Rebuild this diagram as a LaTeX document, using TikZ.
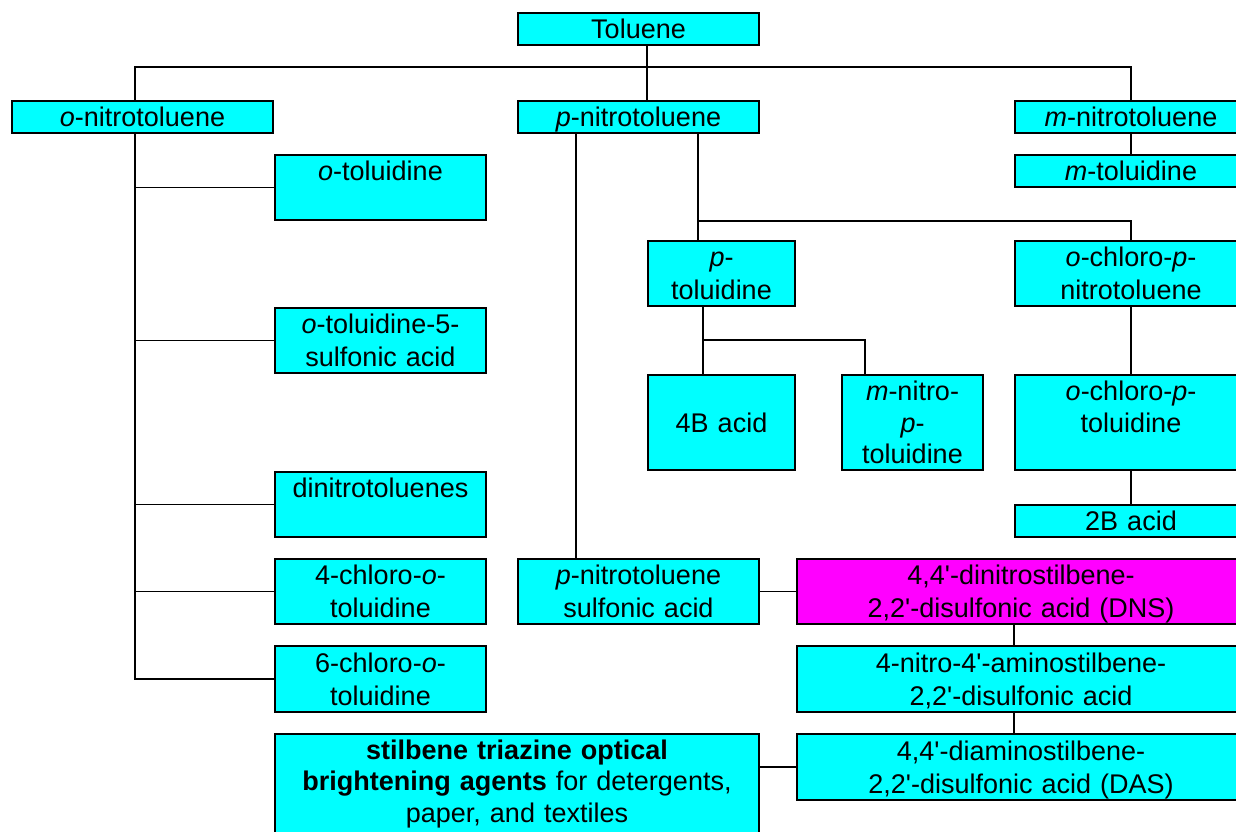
\documentclass[tikz,border=0pt]{standalone}
\usepackage{fontspec}
\setmainfont{Liberation Sans}[Ligatures=TeXOff]
\usetikzlibrary{positioning}
\definecolor{cyanfill}{HTML}{00FFFF}
\definecolor{dnspink}{HTML}{FF00FF}
\newcommand\ystrut{\rule[-6.5pt]{0pt}{32pt}}
\newcommand\botstrut{\rule[-18pt]{0pt}{18pt}}

\begin{document}
\begin{tikzpicture}[x=1pt,y=-1pt,
  box/.style={draw=black,line width=1.8pt,fill=cyanfill,inner sep=0pt,outer sep=0.9pt,
    text width=#1,minimum height=32.2pt,align=center,font=\fontsize{27}{31.5}\selectfont,
    execute at begin node=\ystrut,execute at end node=\ystrut},
  box/.default=241.2pt,
  twoline/.style={minimum height=65.2pt},
  threeline/.style={minimum height=95.2pt},
  hot/.style={box=#1,fill=dnspink},
  ln/.style={draw=black,line width=1.6pt}]
\useasboundingbox (0,0) rectangle (1236,831);
\clip (0,0) rectangle (1236,831);
% toluene and the three nitrotoluenes
\node[box,anchor=north west] (tol) at (517,12) {Toluene};
\node[box,below=54pt of tol] (pnitro) {\textit{p}-nitrotoluene};
\node[box=261.2pt,left=243pt of pnitro] (onitro) {\textit{o}-nitrotoluene};
\node[box=232.2pt,right=254pt of pnitro] (mnitro) {\textit{m}-nitrotoluene};
\node[box=232.2pt,below=20pt of mnitro] (mtol) {\textit{m}-toluidine};
% ortho branch
\node[box=211.2pt,twoline,below right=20pt and 0pt of onitro.south east] (otol) {\textit{o}-toluidine\\\mbox{}};
\node[box=211.2pt,twoline,below=86pt of otol] (ots) {\textit{o}-toluidine-5-\\sulfonic acid};
\node[box=211.2pt,twoline,below=97pt of ots] (dnt) {dinitrotoluenes\\\mbox{}};
\node[box=211.2pt,twoline,below=20pt of dnt] (fourco) {4-chloro-\textit{o}-\\toluidine};
\node[box=211.2pt,twoline,minimum height=66.2pt,below=20pt of fourco] (sixco) {6-chloro-\textit{o}-\\toluidine};
\node[box=484.2pt,below right=20pt and 0pt of sixco.south west,execute at end node=\botstrut] (stil)
  {\textbf{stilbene triazine optical}\\\textbf{brightening agents} for detergents,\\paper, and textiles};
% para branch
\node[box=147.2pt,twoline,below right=106pt and 130pt of pnitro.south west] (ptol) {\textit{p}-\\toluidine};
\node[box=147.2pt,threeline,below=67pt of ptol] (fourb) {4B acid};
\node[box=141.2pt,threeline,right=45pt of fourb] (mnpt) {\textit{m}-nitro-\\\textit{p}-\\toluidine};
\node[box=232.2pt,twoline,right=218pt of ptol] (ocpn) {\textit{o}-chloro-\textit{p}-\\nitrotoluene};
\node[box=232.2pt,threeline,below=67pt of ocpn] (ocpt) {\textit{o}-chloro-\textit{p}-\\toluidine\\\mbox{}};
\node[box=232.2pt,below=33pt of ocpt] (twob) {2B acid};
\node[box,twoline,below=424pt of pnitro] (pnsa) {\textit{p}-nitrotoluene\\sulfonic acid};
\node[hot=448.2pt,twoline,right=36pt of pnsa] (dns) {4,4'-dinitrostilbene-\\2,2'-disulfonic acid (DNS)};
\node[box=448.2pt,twoline,minimum height=66.2pt,below=20pt of dns] (namino) {4-nitro-4'-aminostilbene-\\2,2'-disulfonic acid};
\node[box=448.2pt,twoline,minimum height=66.2pt,below=20pt of namino] (das) {4,4'-diaminostilbene-\\2,2'-disulfonic acid (DAS)};
% connectors
\coordinate (tbar) at (647,67);
\draw[ln] (tol.south -| tbar) -- (pnitro.north -| tbar);
\draw[ln] ([xshift=-7.5pt]onitro.north) |- (tbar) -| (mnitro.north);
\draw[ln] (mnitro) -- (mtol);
\coordinate (otrunk) at ([xshift=-7.5pt]onitro.south);
\draw[ln] (otrunk) |- (sixco.west);
\foreach \n in {otol,ots,dnt,fourco}
  \draw[ln] (otrunk |- \n.west) -- (\n.west);
\draw[ln] ([xshift=59pt]pnitro.south west) -- ([xshift=59pt]pnsa.north west);
\coordinate (pbar) at (698,221);
\draw[ln] (pnitro.south -| pbar) -- (ptol.north -| pbar);
\draw[ln] (pbar) -| (ocpn.north);
\coordinate (tbar2) at (703,340);
\draw[ln] (ptol.south -| tbar2) -- (fourb.north -| tbar2);
\draw[ln] (tbar2) -| ([xshift=24pt]mnpt.north west);
\draw[ln] (ocpn) -- (ocpt);
\draw[ln] (ocpt) -- (twob);
\draw[ln] (pnsa) -- (dns);
\draw[ln] (dns.south -| ocpn.west) -- (namino.north -| ocpn.west);
\draw[ln] (namino.south -| ocpn.west) -- (das.north -| ocpn.west);
\draw[ln] (das.west) -- (das.west -| stil.east);
\end{tikzpicture}
\end{document}
